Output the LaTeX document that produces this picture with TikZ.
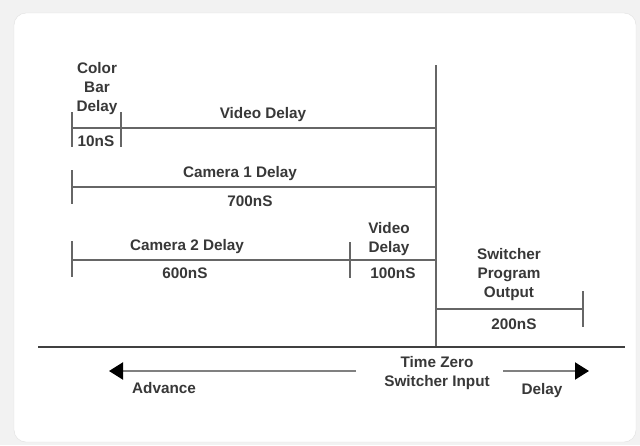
\documentclass[tikz,border=0pt]{standalone}
\usepackage{fontspec}
\setmainfont{Liberation Sans}
\usetikzlibrary{arrows.meta,positioning}

\begin{document}
\begin{tikzpicture}[x=1pt, y=-1pt]
        \tikzset{lbl/.style={font=\fontsize{15.3}{19}\selectfont\bfseries, text=black!78, align=center, inner sep=0pt}}
        \tikzset{span/.style={draw=black!60, line width=1.6pt}}
        \tikzset{tick/.style={draw=black!60, line width=1.6pt}}
        \tikzset{base/.style={draw=black!75, line width=2.6pt}}
        \tikzset{dir/.style={draw=black!50, line width=2pt, -{Triangle[length=14pt, width=17pt, color=black]}}}

        % page and card
        \fill[black!5] (0,0) rectangle (640,445);
        \draw[black!12, fill=white, rounded corners=12pt] (14,13) rectangle (636,442);
        \useasboundingbox (0,0) rectangle (640,445);

        % time axis
        \coordinate (t0top) at (436,65);
        \coordinate (t0) at (436,347);
        \coordinate (base-l) at (38,347);
        \coordinate (base-r) at (625,347);

        % delay rows
        \coordinate (cb-l) at (72,128);
        \coordinate (cb-m) at (121,128);
        \coordinate (cb-r) at (436,128);
        \coordinate (c1-l) at (72,187);
        \coordinate (c1-r) at (436,187);
        \coordinate (c2-l) at (72,260);
        \coordinate (c2-m) at (350,260);
        \coordinate (c2-r) at (436,260);
        \coordinate (sw-l) at (436,309);
        \coordinate (sw-r) at (583,309);

        % labels
        \node [lbl] (cbar) at (97,89) {Color\\Bar\\Delay};
        \node [lbl] (vid1) at (263,115) {Video Delay};
        \node [lbl] (n10) at (96,141) {10nS};
        \node [lbl] (cam1) at (240,174) {Camera 1 Delay};
        \node [lbl] (n700) at (250,201) {700nS};
        \node [lbl] (cam2) at (187,247) {Camera 2 Delay};
        \node [lbl] (n600) at (185,273) {600nS};
        \node [lbl] (vid2) at (389,239) {Video\\Delay};
        \node [lbl] (n100) at (393,273) {100nS};
        \node [lbl] (swout) at (509,275) {Switcher\\Program\\Output};
        \node [lbl] (n200) at (514,324) {200nS};
        \node [lbl] (tzero) at (437,373) {Time Zero\\Switcher Input};
        \node [lbl] (adv) at (164,388) {Advance};
        \node [lbl] (dly) at (542,391) {Delay};

        % lines
        \draw [span] (cb-l) -- (cb-r);
        \draw [span] (c1-l) -- (c1-r);
        \draw [span] (c2-l) -- (c2-r);
        \draw [span] (sw-l) -- (sw-r);
        \draw [span] (t0top) -- (t0);
        \draw [base] (base-l) -- (base-r);

        % end ticks
        \foreach \n/\x/\ya/\yb in {cb1/72/112/147, cb2/121/112/147, c1/72/170/204,
                c2a/72/241/277, c2b/350/242/278, sw/583/291/327} {
            \coordinate (\n-t) at (\x,\ya);
            \coordinate (\n-b) at (\x,\yb);
            \draw [tick] (\n-t) -- (\n-b);
        }

        % direction arrows
        \coordinate (adv-s) at (356,371);
        \coordinate (adv-e) at (109,371);
        \coordinate (dly-s) at (503,371);
        \coordinate (dly-e) at (589,371);
        \draw [dir] (adv-s) -- (adv-e);
        \draw [dir] (dly-s) -- (dly-e);
\end{tikzpicture}
\end{document}
